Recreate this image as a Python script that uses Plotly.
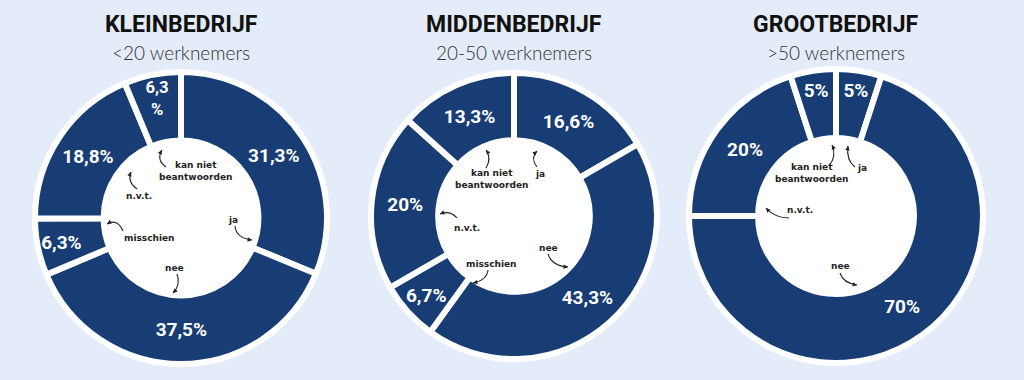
import plotly.graph_objects as go

W, H = 1024, 380

labels = ["ja", "nee", "misschien", "n.v.t.", "kan niet beantwoorden"]
klein_values = [31.3, 37.5, 6.3, 18.8, 6.3]
midden_values = [16.6, 43.3, 6.7, 20.0, 13.3]
groot_values = [5.0, 70.0, 0.0, 20.0, 5.0]

klein_text = ["31,3%", "37,5%", "6,3%", "18,8%", "6,3<br>%"]
midden_text = ["16,6%", "43,3%", "6,7%", "20%", "13,3%"]
groot_text = ["5%", "70%", "", "20%", "5%"]

titles = ["KLEINBEDRIJF", "MIDDENBEDRIJF", "GROOTBEDRIJF"]
subtitles = ["&lt;20 werknemers", "20-50 werknemers", "&gt;50 werknemers"]

NAVY = "#173d74"
BG = "#e3ecf8"

# layout geometry (pixels): centre x, centre y (from top), outer radius
charts = [(181, 218, 146), (514, 216, 143), (836, 216, 147)]
HOLE = 0.53


def px(x):
    return x / W


def py(y):
    return 1 - y / H


def domain(cx, cy, r):
    return dict(x=[px(cx - r), px(cx + r)], y=[py(cy + r), py(cy - r)])


fig = go.Figure()

data = [(klein_values, klein_text), (midden_values, midden_text), (groot_values, groot_text)]

for (cx, cy, r), (vals, txt) in zip(charts, data):
    # white hole background
    hr = r * HOLE + 2
    fig.add_trace(go.Pie(values=[1], labels=["bg"], domain=domain(cx, cy, hr),
                         marker=dict(colors=["white"], line=dict(width=0)),
                         textinfo="none", hoverinfo="skip", showlegend=False, sort=False))
    fig.add_trace(go.Pie(
        values=vals, labels=labels, text=txt, textinfo="text",
        textposition="inside", insidetextorientation="horizontal",
        domain=domain(cx, cy, r), hole=HOLE, sort=False, direction="clockwise",
        rotation=0,
        marker=dict(colors=[NAVY] * 5, line=dict(color="white", width=6)),
        textfont=dict(family="Liberation Sans Narrow, Roboto, Arial", size=19, color="white"),
        texttemplate="<b>%{text}</b>",
        showlegend=False, hoverinfo="label+percent",
    ))

annotations = []
for (cx, cy, r), t, s in zip(charts, titles, subtitles):
    annotations.append(dict(x=px(cx), y=py(25), xref="paper", yref="paper", text="<b>" + t + "</b>",
                            xanchor="center", yanchor="middle",
                            showarrow=False, font=dict(family="Roboto", size=23, color="#111111")))
    annotations.append(dict(x=px(cx), y=py(53), xref="paper", yref="paper", text=s,
                            xanchor="center", yanchor="middle",
                            showarrow=False, font=dict(family="Lato", size=19, color="#333333", weight=300)))

# inner labels: (text, x, y) in pixels
inner = [
    ("kan niet<br>beantwoorden", 195, 171), ("n.v.t.", 139, 196), ("misschien", 149, 238),
    ("ja", 233, 220), ("nee", 174, 268),
    ("kan niet<br>beantwoorden", 491, 179), ("ja", 540, 174), ("n.v.t.", 467, 228),
    ("misschien", 491, 264), ("nee", 548, 248),
    ("kan niet<br>beantwoorden", 811, 173), ("ja", 862, 168), ("n.v.t.", 800, 210),
    ("nee", 840, 266),
]
for t, x, y in inner:
    annotations.append(dict(x=px(x), y=py(y), xref="paper", yref="paper", text="<b>" + t + "</b>",
                            xanchor="center", yanchor="middle",
                            showarrow=False, font=dict(family="DejaVu Sans", size=9, color="#222222"),
                            align="center"))

# curved arrows: start, control, end (pixels)
arrows = [
    ((166, 167), (156, 160), (162, 150)),
    ((137, 189), (127, 182), (131, 172)),
    ((123, 231), (117, 218), (107, 224)),
    ((235, 226), (236, 238), (252, 240)),
    ((177, 274), (181, 285), (173, 293)),
    ((486, 168), (492, 158), (486, 150)),
    ((537, 167), (530, 158), (537, 151)),
    ((457, 218), (450, 210), (440, 214)),
    ((488, 270), (487, 280), (473, 283)),
    ((548, 254), (552, 266), (568, 267)),
    ((829, 166), (837, 156), (832, 145)),
    ((855, 167), (846, 160), (848, 146)),
    ((789, 218), (775, 218), (766, 208)),
    ((840, 273), (843, 283), (857, 285)),
]
shapes = []
for (x0, y0), (xc, yc), (x1, y1) in arrows:
    shapes.append(dict(type="path", xref="paper", yref="paper",
                       path=f"M {px(x0)} {py(y0)} Q {px(xc)} {py(yc)} {px(x1)} {py(y1)}",
                       line=dict(color="#222222", width=1.1)))
    dx, dy = xc - x1, yc - y1
    n = (dx * dx + dy * dy) ** 0.5
    annotations.append(dict(x=px(x1), y=py(y1), xref="paper", yref="paper", text="",
                            showarrow=True, ax=dx / n * 5, ay=dy / n * 5,
                            arrowhead=2, arrowsize=0.8, arrowwidth=1.1, arrowcolor="#222222"))

fig.update_layout(
    width=W, height=H, margin=dict(l=0, r=0, t=0, b=0),
    paper_bgcolor=BG, plot_bgcolor=BG,
    annotations=annotations, shapes=shapes, showlegend=False,
)

fig.write_html("out.html", config={"displayModeBar": False},
               post_script="document.body.style.margin='0';document.body.style.background='" + BG + "';")
